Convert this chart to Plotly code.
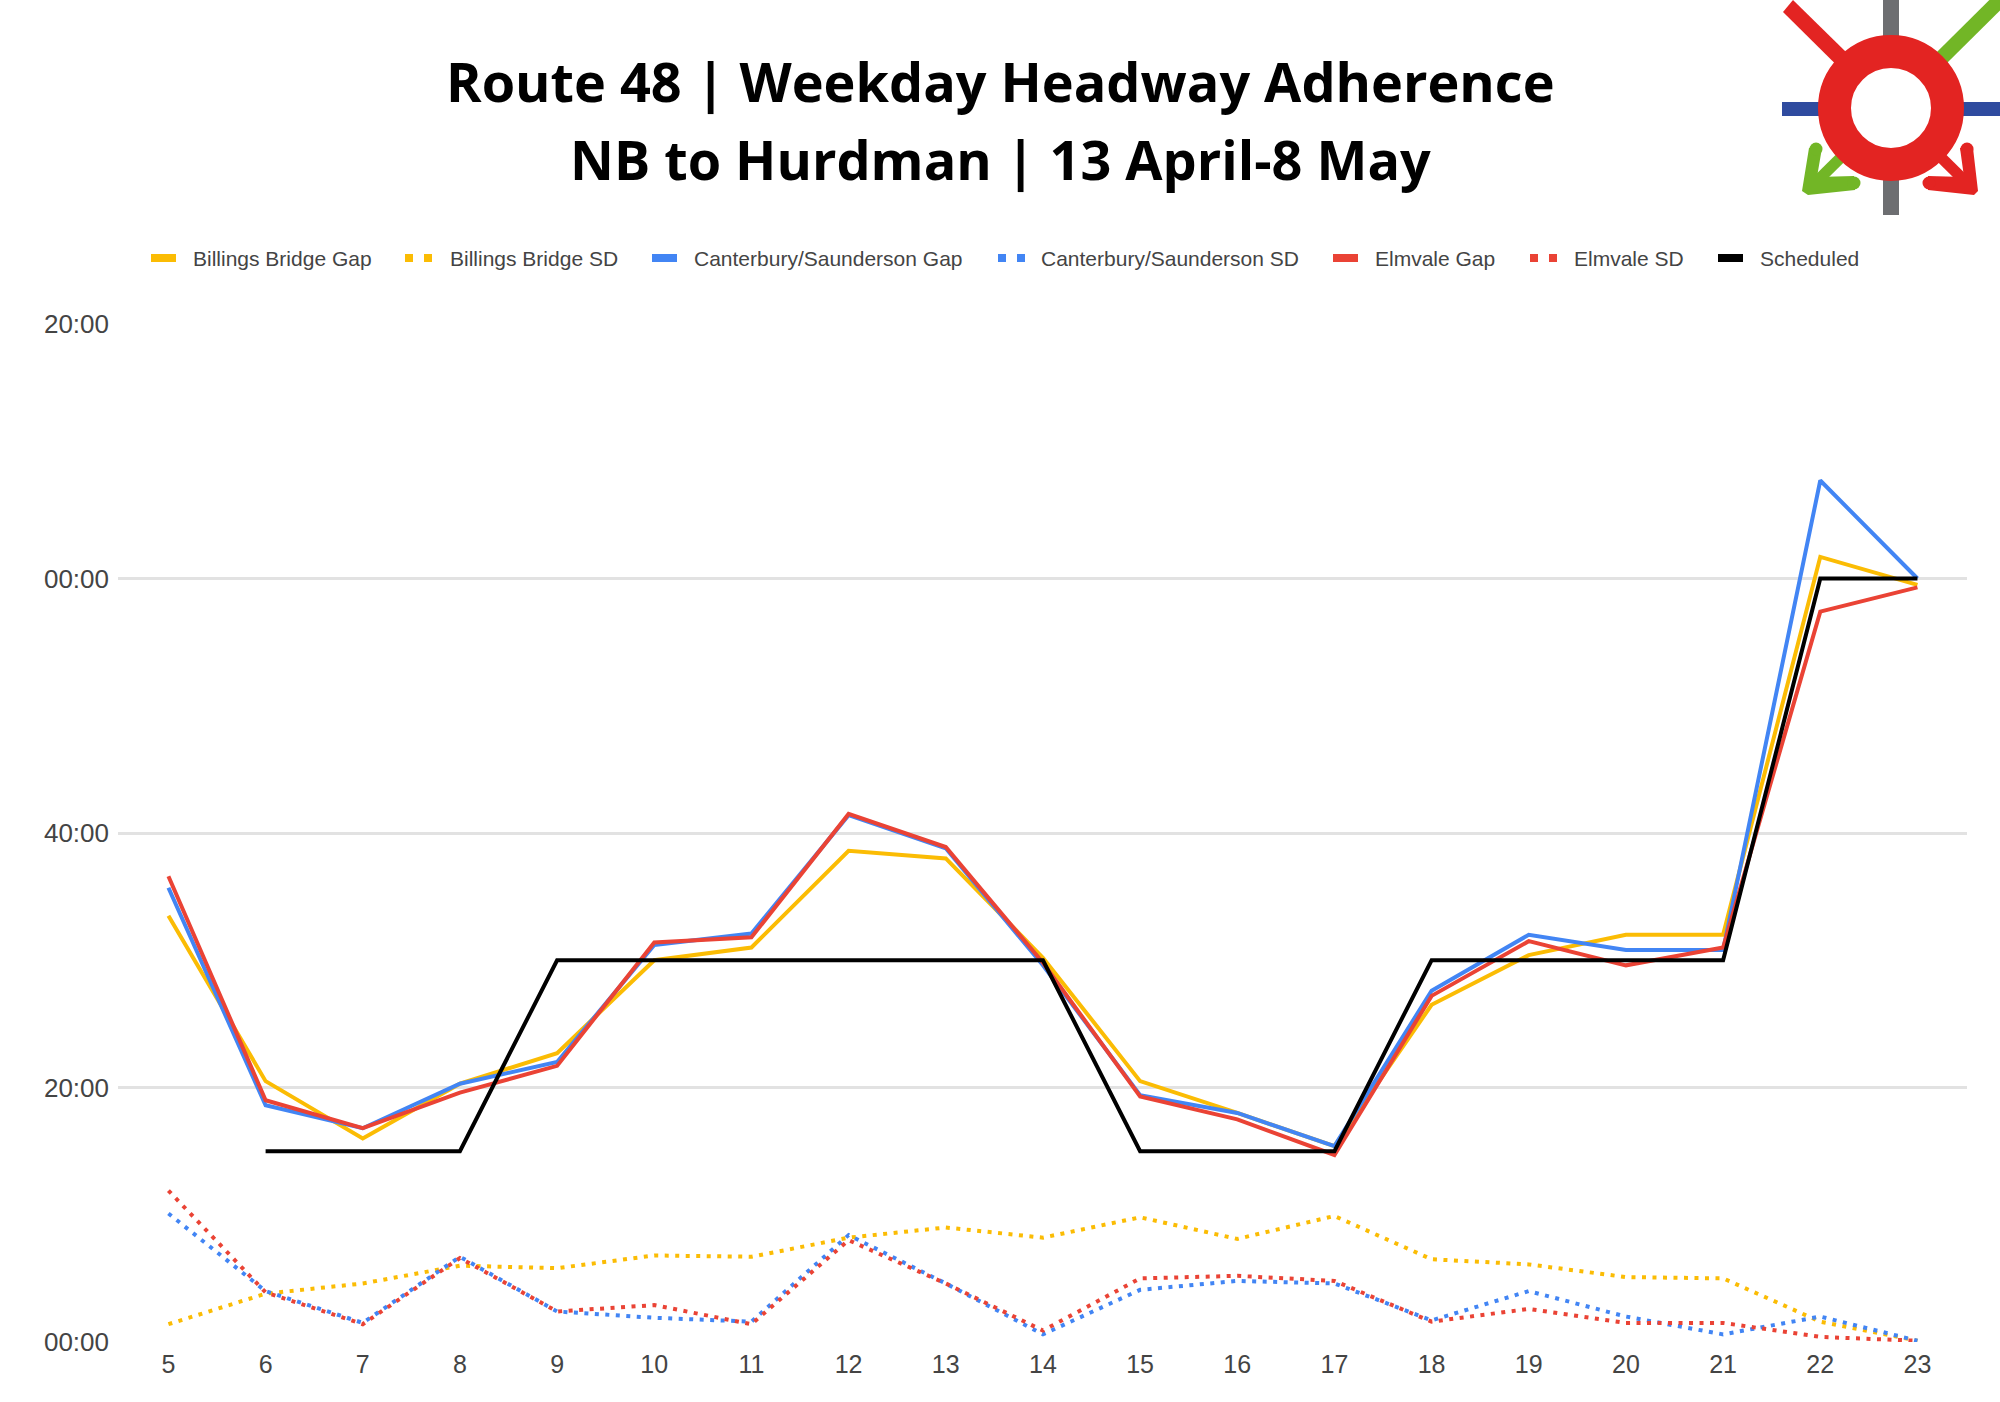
import plotly.graph_objects as go

WIDTH, HEIGHT = 2000, 1402

hours = list(range(5, 24))

# Headways in minutes for each departure hour
billings_gap = [33.5, 20.5, 16.0, 20.3, 22.7, 30.0, 31.0, 38.6, 38.0, 30.2, 20.5, 18.0, 15.4, 26.5, 30.4, 32.0, 32.0, 61.7, 59.5]
billings_sd = [1.4, 3.8, 4.6, 6.0, 5.8, 6.8, 6.7, 8.2, 9.0, 8.2, 9.8, 8.1, 9.9, 6.5, 6.1, 5.1, 5.0, 1.6, 0.1]
canterbury_gap = [35.7, 18.6, 16.8, 20.3, 22.0, 31.2, 32.1, 41.4, 38.8, 29.6, 19.4, 18.0, 15.4, 27.6, 32.0, 30.8, 30.8, 67.7, 60.0]
canterbury_sd = [10.1, 4.0, 1.5, 6.7, 2.4, 1.9, 1.6, 8.4, 4.6, 0.6, 4.1, 4.8, 4.6, 1.7, 4.0, 2.0, 0.6, 2.0, 0.1]
elmvale_gap = [36.6, 19.0, 16.8, 19.6, 21.7, 31.4, 31.8, 41.5, 38.9, 29.8, 19.3, 17.5, 14.7, 27.2, 31.5, 29.6, 31.0, 57.4, 59.3]
elmvale_sd = [11.9, 3.9, 1.4, 6.6, 2.4, 2.9, 1.4, 8.0, 4.6, 0.9, 5.0, 5.2, 4.8, 1.6, 2.6, 1.5, 1.5, 0.4, 0.1]
scheduled = [None, 15, 15, 15, 30, 30, 30, 30, 30, 30, 15, 15, 15, 30, 30, 30, 30, 60, 60]

y_ticks = [0, 20, 40, 60, 80]
y_tick_labels = ["00:00", "20:00", "40:00", "00:00", "20:00"]

YELLOW, BLUE, RED = "#fbbc04", "#4285f4", "#ea4335"
DOTS = "4px,6.5px"

series = [
    ("Billings Bridge Gap", billings_gap, YELLOW, "solid"),
    ("Billings Bridge SD", billings_sd, YELLOW, DOTS),
    ("Canterbury/Saunderson Gap", canterbury_gap, BLUE, "solid"),
    ("Canterbury/Saunderson SD", canterbury_sd, BLUE, DOTS),
    ("Elmvale Gap", elmvale_gap, RED, "solid"),
    ("Elmvale SD", elmvale_sd, RED, DOTS),
    ("Scheduled", scheduled, "#000000", "solid"),
]

fig = go.Figure()
for name, values, color, dash in series:
    fig.add_trace(go.Scatter(
        x=hours, y=values, name=name, mode="lines", showlegend=False,
        line=dict(color=color, width=4, dash=dash),
    ))


def px(x):
    return x / WIDTH


def py(y):
    return 1 - y / HEIGHT


def box(x0, y0, x1, y1, color):
    return dict(type="rect", xref="paper", yref="paper", layer="above",
                x0=px(x0), x1=px(x1), y0=py(y1), y1=py(y0),
                fillcolor=color, line=dict(width=0))


def dot(x, y, r, color):
    return dict(type="circle", xref="paper", yref="paper", layer="above",
                x0=px(x - r), x1=px(x + r), y0=py(y + r), y1=py(y - r),
                fillcolor=color, line=dict(width=0))


def stroke(points, color, width):
    path = "M " + " L ".join(f"{px(x):.5f},{py(y):.5f}" for x, y in points)
    return dict(type="path", xref="paper", yref="paper", path=path,
                line=dict(color=color, width=width), layer="above")


def polygon(points, color):
    path = "M " + " L ".join(f"{px(x):.5f},{py(y):.5f}" for x, y in points) + " Z"
    return dict(type="path", xref="paper", yref="paper", path=path,
                fillcolor=color, line=dict(width=0), layer="above")


# Transit logo: crossing routes, two arrowheads and the central ring
LOGO_RED, LOGO_GREEN = "#e32422", "#72b626"
cx, cy = 1891, 108
shapes = [
    box(1883, 0, 1899, 215, "#6d6e71"),
    box(1782, 102, 2000, 116, "#2f4b9f"),
    stroke([(2000, 0), (1891, 108)], LOGO_GREEN, 15),
    polygon([(1783, 12), (1793, 0), (1899, 104), (1888, 116)], LOGO_RED),
    polygon([(1809, 148), (1822, 148), (1817, 177), (1854, 176), (1855, 190),
             (1808, 195), (1802, 191)], LOGO_GREEN),
    stroke([(1810, 188), (1891, 108)], LOGO_GREEN, 11),
    dot(1816, 149, 6.5, LOGO_GREEN),
    dot(1854, 183, 6.5, LOGO_GREEN),
    polygon([(1960, 148), (1973, 148), (1978, 191), (1974, 195), (1928, 190), (1928, 176),
             (1964, 177)], LOGO_RED),
    stroke([(1972, 188), (1891, 108)], LOGO_RED, 11),
    dot(1967, 149, 6.5, LOGO_RED),
    dot(1929, 183, 6.5, LOGO_RED),
    dict(type="circle", xref="paper", yref="paper", layer="above",
         x0=px(cx - 56.5), x1=px(cx + 56.5), y0=py(cy + 56.5), y1=py(cy - 56.5),
         fillcolor="#ffffff", line=dict(color=LOGO_RED, width=33)),
]

TITLE_FONT = dict(family="Open Sans", size=54, color="#000000", weight=700)
annotations = [
    dict(text="Route 48 | Weekday Headway Adherence", x=px(1001), y=py(81.5),
         xref="paper", yref="paper", showarrow=False, font=TITLE_FONT,
         xanchor="center", yanchor="middle"),
    dict(text="NB to Hurdman | 13 April-8 May", x=px(1001), y=py(159),
         xref="paper", yref="paper", showarrow=False, font=TITLE_FONT,
         xanchor="center", yanchor="middle"),
]

# Legend row: swatch start and label start for each series, in page pixels
LEGEND_Y = 258
legend_starts = [(151, 191), (405, 448), (652, 692), (998, 1039),
                 (1333, 1373), (1530, 1572), (1718, 1758)]
for (name, _, color, dash), (swatch_x, label_x) in zip(series, legend_starts):
    if dash == "solid":
        shapes.append(box(swatch_x, LEGEND_Y - 4, swatch_x + 25, LEGEND_Y + 4, color))
    else:
        shapes.append(box(swatch_x, LEGEND_Y - 4, swatch_x + 8, LEGEND_Y + 4, color))
        shapes.append(box(swatch_x + 19, LEGEND_Y - 4, swatch_x + 27, LEGEND_Y + 4, color))
    annotations.append(dict(
        text=name, x=px(label_x), y=py(LEGEND_Y), xref="paper", yref="paper",
        showarrow=False, xanchor="left", yanchor="middle",
        font=dict(size=21, color="#444444"),
    ))

fig.update_layout(
    width=WIDTH, height=HEIGHT,
    margin=dict(l=0, r=0, t=0, b=0, autoexpand=False),
    paper_bgcolor="#ffffff", plot_bgcolor="#ffffff",
    font=dict(family="Liberation Sans", color="#444444"),
    shapes=shapes, annotations=annotations,
    showlegend=False,
    xaxis=dict(
        domain=[px(118), px(1967)], range=[4.481, 23.51],
        tickvals=hours, ticktext=[str(h) for h in hours],
        tickfont=dict(size=25), ticks="", showgrid=False,
        showline=False, zeroline=False, ticklabelstandoff=5,
    ),
    yaxis=dict(
        domain=[py(1342), py(324)], range=[0, 80],
        tickvals=y_ticks, ticktext=y_tick_labels,
        tickfont=dict(size=26), ticks="",
        showgrid=True, gridcolor="#e2e2e2", gridwidth=3,
        showline=False, zeroline=False, ticklabelstandoff=8,
    ),
)

fig.write_html("out.html")
